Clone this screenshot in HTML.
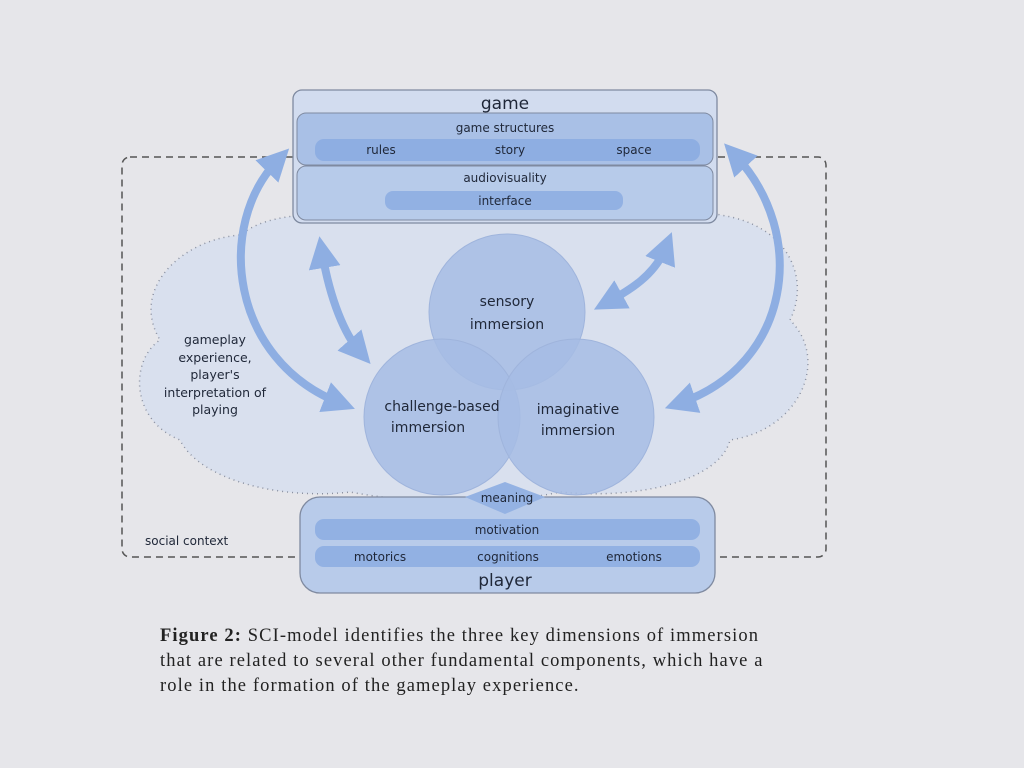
<!DOCTYPE html>
<html><head><style>
html,body{margin:0;padding:0;background:#e6e6ea;width:1024px;height:768px;overflow:hidden}
svg text{font-family:"DejaVu Sans","Liberation Sans",sans-serif;fill:#1f2738}
.cap{position:absolute;left:160px;top:624px;font-family:"Liberation Serif",serif;font-size:18.5px;letter-spacing:1.1px;line-height:25px;color:#222;white-space:nowrap}
</style></head><body>
<svg width="1024" height="768" style="position:absolute;left:0;top:0">
<defs>
<marker id="ah" markerWidth="4" markerHeight="4" refX="2" refY="2" orient="auto-start-reverse" markerUnits="strokeWidth"><path d="M0,0 L4,2 L0,4 z" fill="#8eaee2"/></marker>
</defs>
<rect x="122" y="157" width="704" height="400" rx="8" fill="none" stroke="#555" stroke-width="1.5" stroke-dasharray="7,5"/>
<text x="145" y="545" font-size="12">social context</text>
<g fill="#d9e0ee" stroke="#8a90a0" stroke-width="1.5" stroke-dasharray="1,4">
<path d="M300,215 C380,190 460,195 505,210 C560,190 650,190 720,215 C790,225 810,280 790,320 C830,360 800,430 730,440 C720,480 640,500 560,492 C500,505 420,505 350,492 C280,500 200,480 180,440 C130,420 130,360 160,340 C130,290 180,240 240,235 C260,220 280,218 300,215 z"/>
</g>
<g fill="#a6bce4" fill-opacity="0.85" stroke="#9fb4dc" stroke-width="1">
<circle cx="507" cy="312" r="78"/>
<circle cx="442" cy="417" r="78"/>
<circle cx="576" cy="417" r="78"/>
</g>
<text x="507" y="306" font-size="14" text-anchor="middle">sensory</text>
<text x="507" y="329" font-size="14" text-anchor="middle">immersion</text>
<text x="442" y="411" font-size="14" text-anchor="middle">challenge-based</text>
<text x="428" y="432" font-size="14" text-anchor="middle">immersion</text>
<text x="578" y="414" font-size="14" text-anchor="middle">imaginative</text>
<text x="578" y="435" font-size="14" text-anchor="middle">immersion</text>
<text x="215" y="344" font-size="12.5" text-anchor="middle">gameplay</text>
<text x="215" y="362" font-size="12.5" text-anchor="middle">experience,</text>
<text x="215" y="379" font-size="12.5" text-anchor="middle">player's</text>
<text x="215" y="397" font-size="12.5" text-anchor="middle">interpretation of</text>
<text x="215" y="414" font-size="12.5" text-anchor="middle">playing</text>
<g fill="none" stroke="#8eaee2" stroke-width="8">
<path d="M278,160 C215,225 230,360 340,403" marker-end="url(#ah)" marker-start="url(#ah)"/>
<path d="M735,155 C810,235 790,365 680,403" marker-end="url(#ah)" marker-start="url(#ah)"/>
<path d="M322,252 C330,300 345,335 360,352" marker-end="url(#ah)" marker-start="url(#ah)"/>
<path d="M666,247 C655,275 630,290 608,302" marker-end="url(#ah)" marker-start="url(#ah)"/>
</g>
<rect x="293" y="90" width="424" height="133" rx="9" fill="#d2dcef" stroke="#7f8aa0" stroke-width="1.3"/>
<text x="505" y="109" font-size="17" text-anchor="middle">game</text>
<rect x="297" y="113" width="416" height="52" rx="9" fill="#a9c0e6" stroke="#7f8aa0"/>
<text x="505" y="132" font-size="12" text-anchor="middle">game structures</text>
<rect x="315" y="139" width="385" height="22" rx="9" fill="#8eaee2"/>
<text x="381" y="154" font-size="12" text-anchor="middle">rules</text>
<text x="510" y="154" font-size="12" text-anchor="middle">story</text>
<text x="634" y="154" font-size="12" text-anchor="middle">space</text>
<rect x="297" y="166" width="416" height="54" rx="9" fill="#b7cbea" stroke="#7f8aa0"/>
<text x="505" y="182" font-size="12" text-anchor="middle">audiovisuality</text>
<rect x="385" y="191" width="238" height="19" rx="8" fill="#92b1e3"/>
<text x="505" y="205" font-size="12" text-anchor="middle">interface</text>
<rect x="300" y="497" width="415" height="96" rx="20" fill="#b8cbea" stroke="#7f8aa0" stroke-width="1.3"/>
<path d="M505,482 L545,497 L505,514 L465,497 z" fill="#94b2e3"/>
<text x="507" y="502" font-size="12" text-anchor="middle">meaning</text>
<rect x="315" y="519" width="385" height="21" rx="9" fill="#92b1e3"/>
<text x="507" y="534" font-size="12" text-anchor="middle">motivation</text>
<rect x="315" y="546" width="385" height="21" rx="9" fill="#92b1e3"/>
<text x="380" y="561" font-size="12" text-anchor="middle">motorics</text>
<text x="508" y="561" font-size="12" text-anchor="middle">cognitions</text>
<text x="634" y="561" font-size="12" text-anchor="middle">emotions</text>
<text x="505" y="586" font-size="17" text-anchor="middle">player</text>
</svg>
<div class="cap"><b>Figure 2:</b> SCI-model identifies the three key dimensions of immersion<br>that are related to several other fundamental components, which have a<br>role in the formation of the gameplay experience.</div>
</body></html>
